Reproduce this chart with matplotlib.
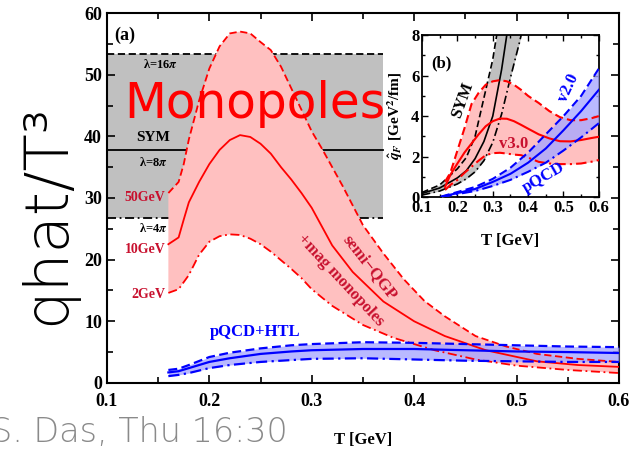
import numpy as np
import matplotlib
matplotlib.use("Agg")
import matplotlib.pyplot as plt
from matplotlib.ticker import MultipleLocator

# ============================================================
#   DATA
# ============================================================
# main panel: semi-QGP + magnetic monopoles band (red)
T_hi = [0.16, 0.17, 0.175, 0.18, 0.19, 0.20, 0.21, 0.22, 0.23, 0.24, 0.25, 0.26, 0.27, 0.28,
        0.29, 0.30, 0.31, 0.33, 0.35, 0.37, 0.39, 0.41, 0.43, 0.46, 0.49, 0.52, 0.56, 0.60]
mono_hi = [30.8, 32.6, 35.5, 39.5, 45.8, 51.0, 54.6, 56.7, 57.0, 56.7, 55.3, 54.0, 51.3, 47.8,
           44.3, 40.8, 38.0, 32.0, 25.6, 21.0, 16.8, 13.3, 10.8, 7.6, 5.9, 4.7, 3.9, 3.4]

T_mid = [0.16, 0.17, 0.175, 0.18, 0.19, 0.20, 0.21, 0.22, 0.23, 0.24, 0.25, 0.26, 0.27,
         0.28, 0.29, 0.30, 0.32, 0.34, 0.37, 0.40, 0.43, 0.47, 0.52, 0.56, 0.60]
mono_mid = [22.5, 23.6, 26.5, 29.3, 32.6, 35.5, 37.8, 39.4, 40.2, 39.9, 38.8, 37.2, 35.0,
            33.0, 30.8, 28.4, 22.3, 18.0, 13.2, 10.0, 7.6, 5.3, 3.5, 2.9, 2.6]

T_lo = [0.16, 0.17, 0.18, 0.19, 0.20, 0.21, 0.22, 0.23, 0.24, 0.25, 0.26, 0.27, 0.28, 0.29,
        0.30, 0.32, 0.35, 0.38, 0.42, 0.46, 0.50, 0.55, 0.60]
mono_lo = [14.6, 15.2, 17.5, 20.8, 22.9, 23.8, 24.1, 24.0, 23.4, 22.5, 21.3, 19.9, 18.5, 17.0,
           15.2, 12.5, 9.4, 7.3, 5.3, 3.8, 2.8, 2.1, 1.6]

# main panel: pQCD+HTL band (blue)
T_htl = [0.16, 0.17, 0.18, 0.20, 0.22, 0.25, 0.28, 0.30, 0.35, 0.40, 0.45, 0.50, 0.55, 0.60]
htl_hi = [2.1, 2.3, 2.9, 4.2, 4.9, 5.6, 6.1, 6.3, 6.6, 6.5, 6.3, 6.1, 5.9, 5.8]
htl_mid = [1.7, 1.9, 2.4, 3.4, 4.0, 4.7, 5.1, 5.3, 5.5, 5.5, 5.3, 5.1, 5.0, 4.85]
htl_lo = [1.1, 1.3, 1.6, 2.4, 2.9, 3.4, 3.7, 3.9, 4.0, 3.8, 3.6, 3.5, 3.4, 3.4]

# main panel: SYM band (gray), lambda = 4pi, 8pi, 16pi
sym_T = [0.1, 0.37]
sym_levels = [26.7, 37.8, 53.4]

# inset (b): SYM
T_sym = [0.10, 0.15, 0.20, 0.225, 0.25, 0.275, 0.30, 0.325, 0.35, 0.375, 0.40]
sym_hi = [0.23, 0.6, 1.4, 1.95, 3.0, 4.9, 6.8, 9.5, 12.0, 15.0, 18.0]
sym_mid = [0.18, 0.45, 0.95, 1.3, 1.9, 2.75, 4.0, 6.3, 9.2, 12.0, 15.0]
sym_lo = [0.10, 0.3, 0.65, 0.9, 1.25, 1.8, 2.7, 4.1, 5.9, 7.6, 9.5]

# inset (b): v3.0 (red)
T_v3 = [0.165, 0.18, 0.20, 0.22, 0.24, 0.26, 0.28, 0.30, 0.32, 0.34, 0.36, 0.38, 0.40,
        0.43, 0.46, 0.49, 0.52, 0.55, 0.58, 0.60]
v3_hi = [0.76, 1.2, 2.3, 3.4, 4.6, 5.15, 5.55, 5.72, 5.78, 5.72, 5.55, 5.3, 5.0,
         4.65, 4.25, 3.95, 3.8, 3.8, 3.9, 4.0]
v3_mid = [0.5, 1.1, 1.66, 2.2, 2.65, 3.1, 3.5, 3.75, 3.88, 3.87, 3.75, 3.57, 3.38,
          3.1, 2.9, 2.76, 2.75, 2.82, 2.92, 2.98]
v3_lo = [0.35, 0.6, 0.85, 1.2, 1.5, 1.8, 2.07, 2.17, 2.19, 2.15, 2.1, 2.07, 1.95,
         1.74, 1.66, 1.63, 1.63, 1.66, 1.75, 1.83]

# inset (b): v2.0 / pQCD (blue)
T_v2 = [0.155, 0.20, 0.25, 0.30, 0.35, 0.40, 0.45, 0.50, 0.55, 0.60]
v2_hi = [0.03, 0.25, 0.5, 0.9, 1.45, 2.2, 3.1, 4.0, 5.0, 6.35]
v2_mid = [0.02, 0.2, 0.4, 0.75, 1.15, 1.7, 2.4, 3.3, 4.25, 5.3]
v2_lo = [0.0, 0.15, 0.3, 0.55, 0.85, 1.25, 1.7, 2.3, 2.95, 3.65]

RED = "#ff0000"
DRED = "#c8102e"
PINK = "#ffc0c0"
BLUE = "#0000ff"
LBLUE = "#a8a8ff"
GRAY = "#c0c0c0"

plt.rcParams["font.family"] = ["Liberation Serif", "DejaVu Serif"]
plt.rcParams["font.weight"] = "bold"
plt.rcParams["mathtext.fontset"] = "stix"

fig = plt.figure(figsize=(6.29, 4.51), dpi=100)
ax = fig.add_axes([0.170, 0.151, 0.814, 0.820])

# ---- gray SYM band
ax.fill_between(sym_T, sym_levels[0], sym_levels[2], color=GRAY, lw=0, zorder=0)
ax.plot(sym_T, [sym_levels[2]] * 2, color="k", ls=(0, (4, 2)), lw=1.3, zorder=1)
ax.plot(sym_T, [sym_levels[1]] * 2, color="k", ls="-", lw=1.3, zorder=1)
ax.plot(sym_T, [sym_levels[0]] * 2, color="k", ls=(0, (5, 2, 1, 2)), lw=1.3, zorder=1)

# ---- red monopole band
ax.fill(np.concatenate([T_hi, T_lo[::-1]]), np.concatenate([mono_hi, mono_lo[::-1]]),
        color=PINK, lw=0, zorder=2)
ax.plot(T_hi, mono_hi, color=RED, ls=(0, (4, 2)), lw=1.3, zorder=4)
ax.plot(T_mid, mono_mid, color=RED, ls="-", lw=1.3, zorder=4)
ax.plot(T_lo, mono_lo, color=RED, ls=(0, (5, 2, 1, 2)), lw=1.3, zorder=4)

# ---- blue pQCD+HTL band
ax.fill_between(T_htl, htl_lo, htl_hi, color=LBLUE, alpha=0.8, lw=0, zorder=3)
ax.plot(T_htl, htl_hi, color=BLUE, ls=(0, (4, 2)), lw=1.6, zorder=4)
ax.plot(T_htl, htl_mid, color=BLUE, ls="-", lw=1.6, zorder=4)
ax.plot(T_htl, htl_lo, color=BLUE, ls=(0, (5, 2, 1, 2)), lw=1.6, zorder=4)

ax.set_xlim(0.1, 0.6)
ax.set_ylim(0, 60)
ax.xaxis.set_major_locator(MultipleLocator(0.1))
ax.xaxis.set_minor_locator(MultipleLocator(0.05))
ax.yaxis.set_major_locator(MultipleLocator(10))
ax.yaxis.set_minor_locator(MultipleLocator(5))
ax.tick_params(which="both", direction="in", top=True, right=True, labelsize=13, width=1.2)
ax.tick_params(which="major", length=6)
ax.tick_params(which="minor", length=4)
ax.tick_params(axis="x", pad=7)
for s in ax.spines.values():
    s.set_linewidth(1.5)
ax.set_xlabel("T [GeV]", fontsize=12, fontweight="bold", labelpad=16)

# ---- labels in main panel
ax.text(0.107, 56.4, "(a)", fontsize=13, fontweight="bold", va="center", zorder=6)
ax.text(0.152, 51.6, r"λ=16$\pi$", fontsize=9, ha="center", va="center", zorder=6)
ax.text(0.145, 39.8, "SYM", fontsize=11, ha="center", va="center", zorder=6)
ax.text(0.145, 35.7, r"λ=8$\pi$", fontsize=9, ha="center", va="center", zorder=6)
ax.text(0.157, 30.0, "50GeV", fontsize=10, color=DRED, ha="right", va="center", zorder=6)
ax.text(0.145, 25.0, r"λ=4$\pi$", fontsize=9, ha="center", va="center", zorder=6)
ax.text(0.157, 21.7, "10GeV", fontsize=10, color=DRED, ha="right", va="center", zorder=6)
ax.text(0.157, 14.3, "2GeV", fontsize=10, color=DRED, ha="right", va="center", zorder=6)
ax.text(0.245, 8.3, "pQCD+HTL", fontsize=12, color=BLUE, ha="center", va="center", zorder=6)
ax.text(0.357, 18.8, "semi\u2212QGP", fontsize=12, color=DRED, rotation=-52,
        ha="center", va="center", zorder=6)
ax.text(0.328, 16.6, "+mag monopoles", fontsize=12, color=DRED, rotation=-47,
        ha="center", va="center", zorder=6)

# ============================================================
#   INSET (b)
# ============================================================
axi = fig.add_axes([0.671, 0.563, 0.281, 0.359])
axi.fill_between(T_sym, sym_lo, sym_hi, color=GRAY, lw=0, zorder=1)
axi.plot(T_sym, sym_hi, color="k", ls=(0, (4, 2)), lw=1.2, zorder=4)
axi.plot(T_sym, sym_mid, color="k", ls="-", lw=1.2, zorder=4)
axi.plot(T_sym, sym_lo, color="k", ls=(0, (5, 2, 1, 2)), lw=1.2, zorder=4)

axi.fill_between(T_v3, v3_lo, v3_hi, color=PINK, lw=0, zorder=2)
axi.plot(T_v3, v3_hi, color=RED, ls=(0, (4, 2)), lw=1.5, zorder=4)
axi.plot(T_v3, v3_mid, color=RED, ls="-", lw=1.5, zorder=4)
axi.plot(T_v3, v3_lo, color=RED, ls=(0, (5, 2, 1, 2)), lw=1.5, zorder=4)

axi.fill_between(T_v2, v2_lo, v2_hi, color=LBLUE, alpha=0.8, lw=0, zorder=3)
axi.plot(T_v2, v2_hi, color=BLUE, ls=(0, (4, 2)), lw=1.5, zorder=4)
axi.plot(T_v2, v2_mid, color=BLUE, ls="-", lw=1.5, zorder=4)
axi.plot(T_v2, v2_lo, color=BLUE, ls=(0, (5, 2, 1, 2)), lw=1.5, zorder=4)

axi.set_xlim(0.1, 0.6)
axi.set_ylim(0, 8)
axi.xaxis.set_major_locator(MultipleLocator(0.1))
axi.xaxis.set_minor_locator(MultipleLocator(0.05))
axi.yaxis.set_major_locator(MultipleLocator(2))
axi.yaxis.set_minor_locator(MultipleLocator(1))
axi.tick_params(which="both", direction="in", top=True, right=True, labelsize=12,
                width=1.0, pad=2)
axi.tick_params(which="major", length=4)
axi.tick_params(which="minor", length=2.5)
for s in axi.spines.values():
    s.set_linewidth(1.3)
axi.set_xlabel("T [GeV]", fontsize=12, fontweight="bold", labelpad=12)
axi.set_ylabel(r"$\hat{q}_F$ [GeV$^2$/fm]", fontsize=11, fontweight="bold", labelpad=4)

axi.text(0.125, 6.6, "(b)", fontsize=12, fontweight="bold", va="center")
axi.text(0.215, 4.8, "SYM", fontsize=12, rotation=70, ha="center", va="center", zorder=6)
axi.text(0.36, 2.6, "v3.0", fontsize=12, color=DRED, ha="center", va="center", zorder=6)
axi.text(0.515, 5.4, "v2.0", fontsize=12, color=BLUE, rotation=65,
         ha="center", va="center", zorder=6)
axi.text(0.445, 0.95, "pQCD", fontsize=12, color=BLUE, rotation=30,
         ha="center", va="center", zorder=6)

# ---- overlay annotations (slide text)
ax.text(0.1165, 45.3, "Monopoles", fontsize=35, color=RED, fontfamily="DejaVu Sans",
        fontweight="normal", ha="left", va="center", zorder=10)
fig.text(0.075, 0.525, "qhat/T³", fontsize=44, rotation=90, fontfamily="DejaVu Sans",
         fontweight="light", ha="center", va="center")
fig.text(-0.015, 0.042, "S. Das, Thu 16:30", fontsize=24, color="#8a8a8a",
         fontfamily="DejaVu Sans", fontweight="light", ha="left", va="center")

plt.savefig("out.png", dpi=100)
plt.close()
